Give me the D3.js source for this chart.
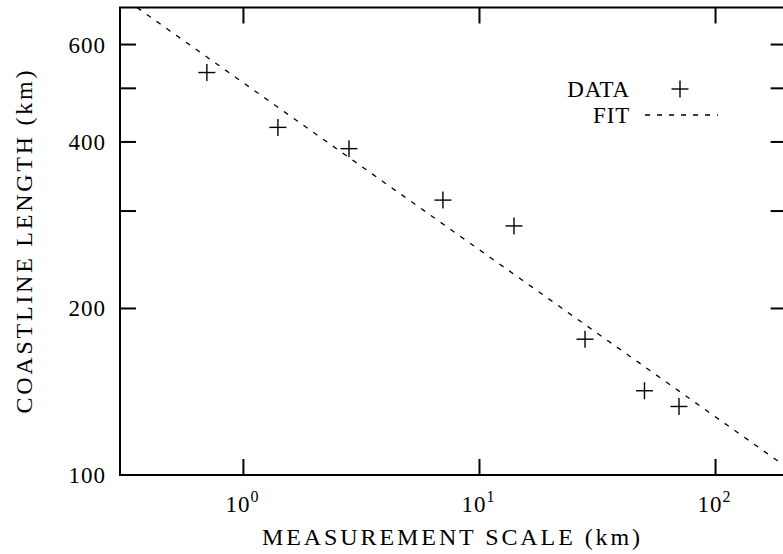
<!DOCTYPE html>
<html>
<head>
<meta charset="utf-8">
<script src="https://cdn.jsdelivr.net/npm/d3@7"></script>
<style>
  body { margin: 0; background: #fff; }
  svg { display: block; overflow: hidden; }
  text { font-family: "Liberation Serif", "DejaVu Serif", serif; fill: #000; }
</style>
</head>
<body>
<div id="chart"></div>
<script>
// measured coastline length vs ruler size
var scaleKm = [0.7, 1.4, 2.8, 7, 14, 28, 50, 70];
var lengthKm = [534, 425, 389, 314, 282, 176, 142, 133];

// power-law fit, two end points (log-log straight line)
var fitX = [0.354, 200];
var fitY = [700, 103.3];

var xTicks = [1, 10, 100];
var xTickExp = ["0", "1", "2"];
var yTicks = [100, 200, 300, 400, 500, 600];
var yTickLabels = ["100", "200", "", "400", "", "600"];

(function() {
  var width = 783, height = 554;
  var pLeft = 120, pRight = 786.6, pTop = 7.5, pBottom = 475;
  var tickLen = 16;

  var svg = d3.select("#chart").append("svg")
      .attr("width", width)
      .attr("height", height);

  var x = d3.scaleLog().domain([0.3, 200]).range([pLeft, pRight]);
  var y = d3.scaleLog().domain([100, 700]).range([pBottom, pTop]);

  svg.append("clipPath").attr("id", "plotclip")
    .append("rect")
      .attr("x", pLeft).attr("y", pTop)
      .attr("width", pRight - pLeft).attr("height", pBottom - pTop);

  // ticks (all four sides, pointing inward)
  var ticks = svg.append("g").attr("stroke", "#000").attr("stroke-width", 2);
  xTicks.forEach(function(t) {
    ticks.append("line").attr("x1", x(t)).attr("x2", x(t)).attr("y1", pBottom).attr("y2", pBottom - tickLen);
    ticks.append("line").attr("x1", x(t)).attr("x2", x(t)).attr("y1", pTop).attr("y2", pTop + tickLen);
  });
  yTicks.forEach(function(t) {
    ticks.append("line").attr("x1", pLeft).attr("x2", pLeft + tickLen).attr("y1", y(t)).attr("y2", y(t));
    ticks.append("line").attr("x1", pRight).attr("x2", pRight - tickLen).attr("y1", y(t)).attr("y2", y(t));
  });

  // frame
  svg.append("rect")
      .attr("x", pLeft).attr("y", pTop)
      .attr("width", pRight - pLeft).attr("height", pBottom - pTop)
      .attr("fill", "none").attr("stroke", "#000").attr("stroke-width", 2);

  // tick labels
  svg.append("g").selectAll("text")
    .data(yTicks)
    .join("text")
      .attr("x", 106)
      .attr("y", function(d) { return y(d) + 8; })
      .attr("text-anchor", "end")
      .attr("font-size", 23)
      .attr("letter-spacing", 1)
      .text(function(d, i) { return yTickLabels[i]; });

  var xl = svg.append("g").selectAll("text")
    .data(xTicks)
    .join("text")
      .attr("x", function(d) { return x(d) - 1; })
      .attr("y", 512)
      .attr("text-anchor", "middle")
      .attr("font-size", 23)
      .attr("letter-spacing", 1);
  xl.append("tspan").text("10");
  xl.append("tspan")
      .attr("dy", -10)
      .attr("font-size", 16)
      .text(function(d, i) { return xTickExp[i]; });

  // axis titles
  svg.append("text")
      .attr("x", 451).attr("y", 545)
      .attr("text-anchor", "middle")
      .attr("font-size", 24)
      .attr("textLength", 378)
      .attr("lengthAdjust", "spacing")
      .text("MEASUREMENT SCALE (km)");

  svg.append("text")
      .attr("transform", "translate(32,242) rotate(-90)")
      .attr("text-anchor", "middle")
      .attr("font-size", 24)
      .attr("textLength", 343)
      .attr("lengthAdjust", "spacing")
      .text("COASTLINE LENGTH (km)");

  // fit line
  svg.append("path")
      .datum(fitX.map(function(d, i) { return [d, fitY[i]]; }))
      .attr("clip-path", "url(#plotclip)")
      .attr("fill", "none")
      .attr("stroke", "#000")
      .attr("stroke-width", 1.3)
      .attr("stroke-dasharray", "5,7")
      .attr("d", d3.line()
        .x(function(d) { return x(d[0]); })
        .y(function(d) { return y(d[1]); }));

  // data crosses
  var arm = 8.5;
  var pts = svg.append("g").attr("stroke", "#000").attr("stroke-width", 1.4);
  scaleKm.forEach(function(d, i) {
    var cx = x(d), cy = y(lengthKm[i]);
    pts.append("line").attr("x1", cx - arm).attr("x2", cx + arm).attr("y1", cy).attr("y2", cy);
    pts.append("line").attr("x1", cx).attr("x2", cx).attr("y1", cy - arm).attr("y2", cy + arm);
  });

  // legend
  var lg = svg.append("g");
  lg.append("text").attr("x", 630).attr("y", 97).attr("text-anchor", "end")
      .attr("font-size", 23).attr("letter-spacing", 0.8).text("DATA");
  lg.append("text").attr("x", 630).attr("y", 123).attr("text-anchor", "end")
      .attr("font-size", 23).attr("letter-spacing", 0.8).text("FIT");
  lg.append("line").attr("x1", 680 - arm).attr("x2", 680 + arm).attr("y1", 89).attr("y2", 89)
      .attr("stroke", "#000").attr("stroke-width", 1.4);
  lg.append("line").attr("x1", 680).attr("x2", 680).attr("y1", 89 - arm).attr("y2", 89 + arm)
      .attr("stroke", "#000").attr("stroke-width", 1.4);
  lg.append("line").attr("x1", 645).attr("x2", 718).attr("y1", 115).attr("y2", 115)
      .attr("stroke", "#000").attr("stroke-width", 1.3).attr("stroke-dasharray", "5,7");
})();
</script>
</body>
</html>
